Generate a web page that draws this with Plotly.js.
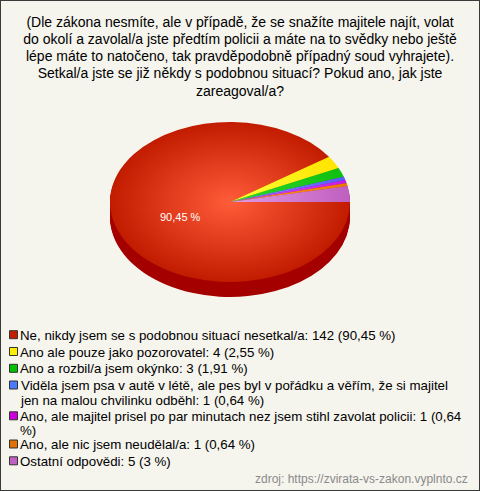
<!DOCTYPE html>
<html><head><meta charset="utf-8">
<script src="https://cdn.plot.ly/plotly-3.0.1.min.js"></script>
<style>
html,body{margin:0;padding:0;background:#f5f4ed;}
#chart{width:478px;height:489px;border:1px solid #3a3a3a;}
</style></head><body>
<div id="chart"></div>
<script>
// ---------- data ----------
const titleLines = [
  '(Dle zákona nesmíte, ale v případě, že se snažíte majitele najít, volat',
  'do okolí a zavolal/a jste předtím policii a máte na to svědky nebo ještě',
  'lépe máte to natočeno, tak pravděpodobně případný soud vyhrajete).',
  'Setkal/a jste se již někdy s podobnou situací? Pokud ano, jak jste',
  'zareagoval/a?'
];
const categories = [
  'Ne, nikdy jsem se s podobnou situací nesetkal/a',
  'Ano ale pouze jako pozorovatel',
  'Ano a rozbil/a jsem okýnko',
  'Viděla jsem psa v autě v létě, ale pes byl v pořádku a věřím, že si majitel jen na malou chvilinku odběhl',
  'Ano, ale majitel prisel po par minutach nez jsem stihl zavolat policii',
  'Ano, ale nic jsem neudělal/a',
  'Ostatní odpovědi'
];
const counts = [142, 4, 3, 1, 1, 1, 5];
const percentLabels = ['90,45', '2,55', '1,91', '0,64', '0,64', '0,64', '3'];
const sourceText = 'zdroj: https://zvirata-vs-zakon.vyplnto.cz';

// ---------- styles ----------
const innerColors  = ['#ff5c3a', '#ffff3a', '#2ed82e', '#8c8cff', '#e050ff', '#ff9428', '#e49ae4'];
const outerColors  = ['#c21c00', '#ffe400', '#10bf10', '#5a5aff', '#c21ee0', '#f07800', '#bf5fbf'];
const sideColors   = ['#a50000', '#c8b000', '#008c00', '#3030c0', '#9000a0', '#b85000', '#8c3c8c'];
const legendColors = ['#c41e00', '#ffee00', '#00c000', '#4a7aff', '#cc00dd', '#e07000', '#c060c0'];

const W = 478, H = 489;
const K = 80 / 120;       // vertical squash of the pie
const DEPTH = 15;         // px of 3D side
const FONT = '"Liberation Sans", Arial, sans-serif';
const LEG_SIZE = 13.3;

// wrap legend text by measured width
const cv = document.createElement('canvas').getContext('2d');
cv.font = LEG_SIZE + 'px "Liberation Sans"';
function wrap(s, maxW) {
  const words = s.split(' ');
  const lines = []; let cur = '';
  words.forEach(w => {
    const t = cur ? cur + ' ' + w : w;
    if (cv.measureText(t).width > maxW && cur) { lines.push(cur); cur = w; }
    else cur = t;
  });
  if (cur) lines.push(cur);
  return lines.join('<br>');
}
const legendLabels = categories.map((c, i) =>
  wrap(c + ': ' + counts[i] + ' (' + percentLabels[i] + ' %)', 446));

const domX = [(229 - 120) / W, (229 + 120) / W];
const domY = [1 - (201 + 120) / H, 1 - (201 - 120) / H];

const data = [];
for (let d = DEPTH; d >= 1; d--) {
  data.push({
    type: 'pie', values: counts, labels: legendLabels, sort: false,
    direction: 'clockwise', rotation: 90, domain: {x: domX, y: domY},
    marker: {colors: sideColors, line: {width: 0}},
    textinfo: 'none', hoverinfo: 'skip', showlegend: false
  });
}
data.push({
  type: 'pie', values: counts, labels: legendLabels, sort: false,
  direction: 'clockwise', rotation: 90, domain: {x: domX, y: domY},
  marker: {colors: legendColors, line: {width: 0}},
  textinfo: 'none', hoverinfo: 'skip', showlegend: true
});

// label of the big slice, placed from data
const total = counts.reduce((a, b) => a + b, 0);
const cxp = W * (domX[0] + domX[1]) / 2, cyp = H * (1 - (domY[0] + domY[1]) / 2);
const rp = Math.min(W * (domX[1] - domX[0]), H * (domY[1] - domY[0])) / 2;
const mid = Math.PI * counts[0] / total;
const lx = cxp + 0.43 * rp * Math.cos(mid);
const ly = cyp + 0.43 * rp * K * Math.sin(mid) + 5;

const layout = {
  width: W, height: H,
  margin: {l: 0, r: 0, t: 0, b: 0},
  paper_bgcolor: '#f5f4ed', plot_bgcolor: '#f5f4ed',
  font: {family: FONT, color: '#000'},
  title: {
    text: titleLines.join('<br>'),
    font: {family: FONT, size: 14, color: '#000'},
    x: 0.5, xanchor: 'center', xref: 'paper',
    y: 1 - 25.5 / H, yref: 'container', yanchor: 'top'
  },
  showlegend: true,
  legend: {
    x: 0.02, xanchor: 'left', y: 0.02, yanchor: 'bottom',
    font: {family: FONT, size: LEG_SIZE, color: '#000'},
    bgcolor: 'rgba(0,0,0,0)', borderwidth: 0, traceorder: 'normal'
  },
  annotations: [
    {text: percentLabels[0] + ' %', x: lx / W, y: 1 - ly / H, xref: 'paper', yref: 'paper',
     showarrow: false, font: {family: FONT, size: 11, color: '#ffffff'}},
    {text: sourceText, x: 469 / W, y: 1 - 478 / H, xref: 'paper', yref: 'paper',
     xanchor: 'right', yanchor: 'middle', showarrow: false,
     font: {family: FONT, size: 12, color: '#8a8a8a'}}
  ]
};

const gd = document.getElementById('chart');
const NS = 'http://www.w3.org/2000/svg';

Plotly.newPlot(gd, data, layout, {staticPlot: true, displayModeBar: false}).then(() => {
  // squash pies into an ellipse and extrude
  const groups = gd.querySelectorAll('.pielayer g.trace');
  groups.forEach((g, i) => {
    const cd0 = gd.calcdata[i][0];
    const off = i < DEPTH ? DEPTH - i : 0;
    g.setAttribute('transform',
      'translate(0,' + (cd0.cy + off) + ') scale(1,' + K + ') translate(0,' + (-cd0.cy) + ')');
  });
  // radial gradients on the top face
  const topIdx = groups.length - 1;
  const cd0 = gd.calcdata[topIdx][0];
  const svg = gd.querySelector('svg.main-svg');
  let defs = svg.querySelector('defs');
  if (!defs) { defs = document.createElementNS(NS, 'defs'); svg.insertBefore(defs, svg.firstChild); }
  innerColors.forEach((c, i) => {
    const gr = document.createElementNS(NS, 'radialGradient');
    gr.setAttribute('id', 'pg' + i);
    gr.setAttribute('gradientUnits', 'userSpaceOnUse');
    gr.setAttribute('cx', cd0.cx); gr.setAttribute('cy', cd0.cy); gr.setAttribute('r', cd0.r);
    [[0, c], [1, outerColors[i]]].forEach(([o, col]) => {
      const st = document.createElementNS(NS, 'stop');
      st.setAttribute('offset', o); st.setAttribute('stop-color', col);
      gr.appendChild(st);
    });
    defs.appendChild(gr);
  });
  groups[topIdx].querySelectorAll('g.slice').forEach((s, j) => {
    const idx = (s.__data__ && s.__data__.i !== undefined) ? s.__data__.i : j;
    const p = s.querySelector('path');
    if (p) p.style.fill = 'url(#pg' + idx + ')';
  });

  // tighten title line spacing
  gd.querySelectorAll('.gtitle tspan.line').forEach(t => {
    const dy = t.getAttribute('dy');
    if (dy && dy.indexOf('em') > 0) t.setAttribute('dy', (parseFloat(dy) / 1.3 * 1.235) + 'em');
  });

  // legend adjustments
  gd.querySelectorAll('.legend [clip-path]').forEach(el => el.removeAttribute('clip-path'));
  const targets = [334.7, 351.5, 368.3, 385.0, 415.8, 444.0, 460.8];
  const items = gd.querySelectorAll('.legend g.traces');
  items.forEach((it, i) => {
    const txt = it.querySelector('text.legendtext');
    const sym = it.querySelector('.legendpoints path');
    if (!txt || !sym) return;
    txt.querySelectorAll('tspan.line').forEach(t => {
      const dy = t.getAttribute('dy');
      if (dy && dy.indexOf('em') > 0) {
        const v = parseFloat(dy);
        t.setAttribute('dy', (v / 1.3 * 1.09) + 'em');
      }
    });
    sym.setAttribute('d', 'M4,4H-4V-4H4Z');
    sym.style.fill = legendColors[i];
    sym.style.stroke = '#333333';
    sym.style.strokeWidth = '1px';
    sym.style.strokeOpacity = 1;
    // align first line with symbol
    const first = txt.querySelector('tspan.line') || txt;
    const sb = sym.getBoundingClientRect();
    const fb = first.getBoundingClientRect();
    const dyT = (sb.top + sb.height / 2) - (fb.top + fb.height / 2) + 0.5;
    txt.setAttribute('transform', 'translate(0,' + dyT + ')');
    // move item
    const sb2 = sym.getBoundingClientRect();
    const tb = txt.getBoundingClientRect();
    const gx = 20 - tb.left;
    const gy = targets[i] - (sb2.top + sb2.height / 2);
    it.setAttribute('transform', (it.getAttribute('transform') || '') + ' translate(' + gx + ',' + gy + ')');
    const sb3 = sym.getBoundingClientRect();
    const sx = 13.5 - (sb3.left + sb3.width / 2);
    sym.setAttribute('transform', (sym.getAttribute('transform') || '') + ' translate(' + sx + ',0)');
  });
});
</script>
</body></html>
